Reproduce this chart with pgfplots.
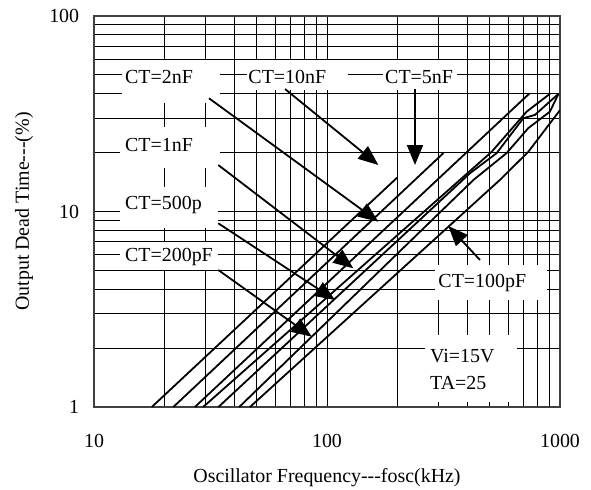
\documentclass[border=0pt]{standalone}
\usepackage{pgfplots}
\pgfplotsset{compat=1.18}
\usetikzlibrary{arrows.meta}
\usepackage{fontspec}
\setmainfont{Liberation Serif}
\begin{document}
\fontsize{20}{23}\selectfont
\begin{tikzpicture}
\useasboundingbox (-94bp,-83bp) rectangle (497bp,407bp);
\begin{loglogaxis}[
  at={(0,0)}, anchor=south west,
  scale only axis, width=466bp, height=391bp,
  xmin=10, xmax=1000, ymin=1, ymax=100,
  xtick={10,100,1000}, xticklabels={10,100,1000},
  ytick={1,10,100}, yticklabels={1,10,100},
  grid=both,
  major grid style={black, line width=0.9bp},
  minor grid style={black, line width=0.9bp},
  tick style={black, line width=0.9bp},
  major tick length=5bp, minor tick length=5bp,
  axis line style={line width=1.6bp, black!75},
  xticklabel style={yshift=-20bp},
  yticklabel style={xshift=-8bp},
  xlabel={Oscillator Frequency-{}-{}-fosc(kHz)},
  ylabel={Output Dead Time-{}-{}-(\%)},
  xlabel style={at={(axis description cs:0.5,-0.1816)}, anchor=center},
  ylabel style={at={(axis description cs:-0.150,0.5)}, anchor=center},
  curve/.style={black, solid, line width=1.8bp, mark=none},
]
% CT=10nF
\addplot[curve] coordinates {(17.7,1) (200,14.9)};
% CT=5nF
\addplot[curve] coordinates {(21.9,1) (316,19.9)};
% CT=2nF
\addplot[curve] coordinates {(27.1,1) (740,40.2)};
% CT=1nF
\addplot[curve] coordinates {(29.4,1) (509,20.2) (719,32.4) (905,40)};
% CT=500p
\addplot[curve] coordinates {(34.2,1) (411,15.7) (535,19.9) (696,30) (781,31.2) (985,40)};
% CT=200pF
\addplot[curve] coordinates {(42,1) (425,14.5) (590,19.9) (731,26.7) (905,32.4) (985,40)};
% CT=100pF
\addplot[curve] coordinates {(46.7,1) (552,14.5) (731,20.2) (1000,33)};

% label boxes
\fill[white] (rel axis cs:0.060,0.7775) rectangle (rel axis cs:0.270,0.8875);
\fill[white] (rel axis cs:0.328,0.8107) rectangle (rel axis cs:0.545,0.8875);
\fill[white] (rel axis cs:0.620,0.8107) rectangle (rel axis cs:0.779,0.8875);
\fill[white] (rel axis cs:0.056,0.611) rectangle (rel axis cs:0.270,0.716);
\fill[white] (rel axis cs:0.056,0.458) rectangle (rel axis cs:0.266,0.563);
\fill[white] (rel axis cs:0.056,0.350) rectangle (rel axis cs:0.266,0.422);
\fill[white] (rel axis cs:0.732,0.274) rectangle (rel axis cs:0.972,0.363);
\fill[white] (rel axis cs:0.710,0.012) rectangle (rel axis cs:0.907,0.184);

% labels
\node[anchor=west, inner sep=0] at (rel axis cs:0.0665,0.844) {CT=2nF};
\node[anchor=west, inner sep=0] at (rel axis cs:0.3311,0.844) {CT=10nF};
\node[anchor=west, inner sep=0] at (rel axis cs:0.6245,0.844) {CT=5nF};
\node[anchor=west, inner sep=0] at (rel axis cs:0.0665,0.6701) {CT=1nF};
\node[anchor=west, inner sep=0] at (rel axis cs:0.0665,0.5166) {CT=500p};
\node[anchor=west, inner sep=0] at (rel axis cs:0.0665,0.3844) {CT=200pF};
\node[anchor=west, inner sep=0] at (rel axis cs:0.7388,0.3164) {CT=100pF};
\node[anchor=west, inner sep=0] at (rel axis cs:0.7210,0.1304) {Vi=15V};
\node[anchor=west, inner sep=0] at (rel axis cs:0.7210,0.0606) {TA=25};

% arrows
\begin{scope}[line width=1.8bp, -{Triangle[length=20bp,width=16bp]}]
\draw (rel axis cs:0.4099,0.8133) -- (rel axis cs:0.6101,0.6189);
\draw (rel axis cs:0.6888,0.8133) -- (rel axis cs:0.6888,0.6189);
\draw (rel axis cs:0.2468,0.7895) -- (rel axis cs:0.6101,0.4739);
\draw (rel axis cs:0.2667,0.6189) -- (rel axis cs:0.5564,0.3547);
\draw (rel axis cs:0.2667,0.4698) -- (rel axis cs:0.5172,0.2737);
\draw (rel axis cs:0.2667,0.3504) -- (rel axis cs:0.4672,0.1798);
\draw (rel axis cs:0.8283,0.3760) -- (rel axis cs:0.7603,0.4629);
\end{scope}
\end{loglogaxis}
\end{tikzpicture}
\end{document}
